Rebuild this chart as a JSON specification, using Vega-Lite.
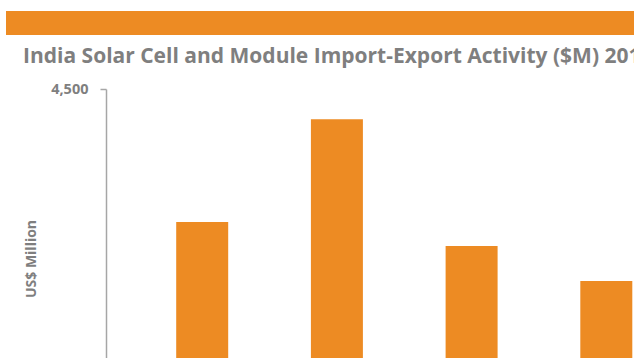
{
  "$schema": "https://vega.github.io/schema/vega-lite/v6.json",
  "padding": {"left": 6, "top": 11, "right": 0, "bottom": 0},
  "background": "white",
  "spacing": 11,
  "config": {"view": {"stroke": null}, "font": "Open Sans"},
  "vconcat": [
    {
      "width": 700,
      "height": 24,
      "data": {"values": [{"band": "header"}]},
      "mark": {"type": "rect", "color": "#ED8B23"},
      "encoding": {}
    },
    {
      "title": {
        "text": "India Solar Cell and Module Import-Export Activity ($M) 2010-2013",
        "anchor": "start",
        "frame": "group",
        "dx": 17,
        "offset": 14,
        "font": "Open Sans",
        "fontSize": 21,
        "fontWeight": "bold",
        "color": "#7F7F7F"
      },
      "width": {"step": 134.7},
      "height": 339,
      "data": {
        "values": [
          {"year": "2010", "value": 2735},
          {"year": "2011", "value": 4098},
          {"year": "2012", "value": 2416},
          {"year": "2013", "value": 1952}
        ]
      },
      "mark": {"type": "bar", "color": "#ED8B23"},
      "encoding": {
        "x": {
          "field": "year",
          "type": "ordinal",
          "scale": {"paddingInner": 0.614, "paddingOuter": 1, "align": 0.6318},
          "axis": {
            "title": null,
            "labelAngle": 0,
            "labelColor": "#7F7F7F",
            "labelFontWeight": "bold",
            "labelFontSize": 14,
            "ticks": false,
            "domain": false
          }
        },
        "y": {
          "field": "value",
          "type": "quantitative",
          "scale": {"domain": [0, 4500], "nice": false},
          "axis": {
            "offset": -100,
            "values": [0, 4500],
            "format": ",.0f",
            "grid": false,
            "title": "US$ Million",
            "titleFontSize": 14,
            "titleFontWeight": "bold",
            "titleColor": "#7F7F7F",
            "titlePadding": 12,
            "labelColor": "#7F7F7F",
            "labelFontWeight": "bold",
            "labelFontSize": 14.5,
            "labelPadding": 12,
            "tickSize": 6,
            "tickColor": "#A6A6A6",
            "tickWidth": 1.5,
            "domainColor": "#A6A6A6",
            "domainWidth": 1.5
          }
        }
      }
    }
  ]
}
